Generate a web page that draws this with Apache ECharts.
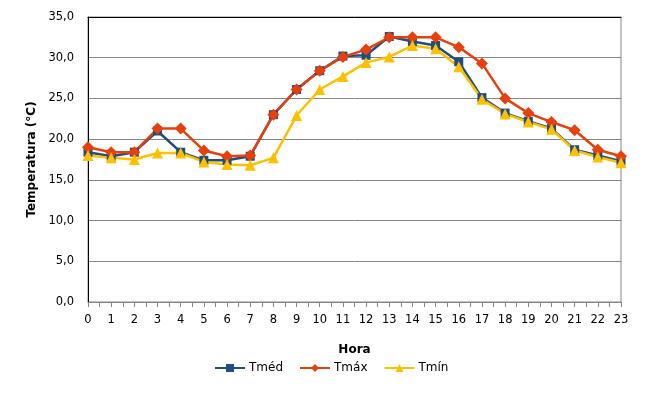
<!DOCTYPE html>
<html>
<head>
<meta charset="utf-8">
<script src="https://cdn.jsdelivr.net/npm/echarts@6/dist/echarts.min.js"></script>
<style>html,body{margin:0;padding:0;background:#fff}#c{width:669px;height:404px}</style>
</head>
<body>
<div id="c"></div>
<script>
const hours = [0,1,2,3,4,5,6,7,8,9,10,11,12,13,14,15,16,17,18,19,20,21,22,23];
const tmed = [18.4,17.9,18.4,21.0,18.4,17.4,17.4,17.9,23.0,26.1,28.4,30.2,30.3,32.6,32.0,31.5,29.5,25.1,23.2,22.2,21.3,18.7,18.0,17.3];
const tmax = [19.0,18.4,18.4,21.3,21.3,18.6,17.9,18.0,23.0,26.1,28.4,30.1,31.0,32.5,32.5,32.5,31.3,29.3,25.0,23.2,22.1,21.1,18.7,17.9];
const tmin = [18.0,17.7,17.5,18.3,18.3,17.2,16.9,16.8,17.7,22.9,26.1,27.7,29.4,30.1,31.5,31.1,28.9,24.9,23.1,22.1,21.2,18.6,17.8,17.1];
const seriesNames = ['Tm\u00e9d','Tm\u00e1x','Tm\u00edn'];
const yTitle = 'Temperatura (\u00b0C)';
const xTitle = 'Hora';

const font = 'DejaVu Sans, Verdana, sans-serif';
const pair = arr => hours.map((h,i)=>[h, arr[i]]);
const chart = echarts.init(document.getElementById('c'), null, {renderer:'canvas'});
chart.setOption({
  animation:false,
  backgroundColor:'#fff',
  textStyle:{fontFamily:font},
  grid:{left:88, right:48, top:17, bottom:102, show:true, borderColor:'#868686', borderWidth:1},
  legend:{
    data:seriesNames, left:209, top:357, itemWidth:30, itemHeight:10, itemGap:16,
    textStyle:{fontFamily:font, fontSize:12, color:'#000', padding:[0,0,0,-1]}
  },
  xAxis:[{
    type:'value', min:0, max:23, interval:1, position:'bottom',
    name:xTitle, nameLocation:'middle', nameGap:42,
    nameTextStyle:{fontFamily:font, fontSize:12, fontWeight:'bold', color:'#000'},
    axisLine:{lineStyle:{color:'#868686', width:1}},
    axisTick:{show:true, length:5, lineStyle:{color:'#868686'}},
    minorTick:{show:true, splitNumber:2, length:5, lineStyle:{color:'#868686'}},
    axisLabel:{fontFamily:font, fontSize:11.5, color:'#000', margin:12},
    splitLine:{show:false}
  },{
    type:'value', min:0, max:23, position:'top',
    axisLine:{show:true, lineStyle:{color:'#000', width:1}},
    axisTick:{show:false}, axisLabel:{show:false}, splitLine:{show:false}
  }],
  yAxis:{
    type:'value', min:0, max:35, interval:5,
    name:yTitle, nameLocation:'middle', nameGap:47, nameRotate:90,
    nameTextStyle:{fontFamily:font, fontSize:12, fontWeight:'bold', color:'#000'},
    axisLine:{show:true, lineStyle:{color:'#000', width:1}},
    axisTick:{show:false},
    axisLabel:{fontFamily:font, fontSize:11.5, color:'#000', margin:14,
      formatter:v=>v.toFixed(1).replace('.',',')},
    splitLine:{show:true, lineStyle:{color:'#868686', width:1}}
  },
  series:[
    {name:seriesNames[0], type:'line', data:pair(tmed), symbol:'rect', symbolSize:9,
     itemStyle:{color:'#1F4E82'}, lineStyle:{color:'#1F4E82', width:2.5}},
    {name:seriesNames[1], type:'line', data:pair(tmax), symbol:'diamond', symbolSize:12,
     itemStyle:{color:'#E8400C'}, lineStyle:{color:'#E8400C', width:2.5}},
    {name:seriesNames[2], type:'line', data:pair(tmin), symbol:'triangle', symbolSize:11,
     itemStyle:{color:'#FFC000'}, lineStyle:{color:'#FFC000', width:2.5}}
  ]
});
</script>
</body>
</html>
